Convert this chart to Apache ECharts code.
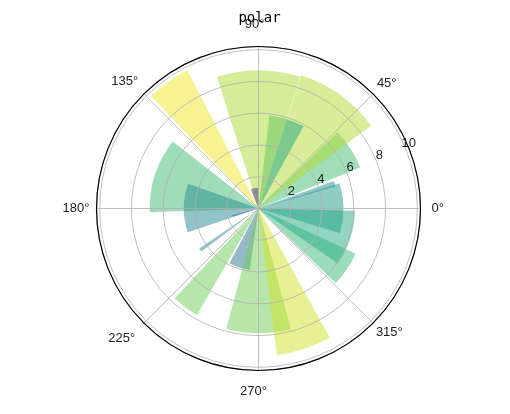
<!DOCTYPE html>
<html><head><meta charset="utf-8">
<script src="https://cdn.jsdelivr.net/npm/echarts@6/dist/echarts.min.js"></script>
<style>html,body{margin:0;padding:0;background:#fff}#c{width:510px;height:414px}</style>
</head><body><div id="c"></div>
<script>
// ---- data ----
var thetas = [0.2, 18, 33, 54.3, 72.3, 90, 101, 125.5, 162, 179.6, 196, 215.5, 233.5, 252, 270, 288, 325.5, 342];
var radii  = [5.35, 5.05, 6.9, 8.8, 5.9, 8.7, 1.3, 9.8, 6.85, 4.7, 1.7, 4.5, 7.75, 3.9, 7.85, 9.3, 6.75, 6.07];
var widths = [34, 4, 22, 36, 22, 35, 22, 16.5, 40, 38, 2.5, 3, 13, 20, 30, 21.7, 19, 33.4];
var radialTicks = [2, 4, 6, 8, 10];
var angleTicks = [0, 45, 90, 135, 180, 225, 270, 315];
var titleText = 'polar';

// ---- styling helpers ----
var VIR = ['#440154','#482475','#414487','#355f8d','#2a788e','#21918c','#22a884','#44bf70','#7ad151','#bddf26','#fde725'];
function hex(h){ return [parseInt(h.substr(1,2),16), parseInt(h.substr(3,2),16), parseInt(h.substr(5,2),16)]; }
function viridis(t){
  t = Math.max(0, Math.min(1, t));
  var x = t * 10, i = Math.min(9, Math.floor(x)), f = x - i;
  var a = hex(VIR[i]), b = hex(VIR[i + 1]);
  return 'rgb(' + [0,1,2].map(function(k){ return Math.round(a[k] + (b[k] - a[k]) * f); }).join(',') + ')';
}
var FONT = 'Liberation Sans';
var labelPad = {0:[0,0,0,7], 45:[0,0,1,1], 90:[0,8,12,0], 135:[0,3,3,0], 180:[0,3,0,0], 225:[6,6,0,0], 270:[10,10,0,0], 315:[0,0,0,0]};
var rich = {};
angleTicks.forEach(function(a){ rich['p' + a] = {padding: labelPad[a], fontFamily: FONT, fontSize: 13, color: '#222'}; });
function norm(a){ return ((a % 360) + 360) % 360; }

var CENTER = [258.5, 208.5], RADIUS = 162, RMAX = 10.2;

var chart = echarts.init(document.getElementById('c'), null, {renderer: 'canvas'});
chart.setOption({
  animation: false,
  backgroundColor: '#fff',
  title: {text: titleText, left: 254.5, top: 6, textAlign: 'center',
    textStyle: {fontFamily: 'DejaVu Sans Mono', fontSize: 14, fontWeight: 'normal', color: '#000'}},
  polar: [{center: CENTER, radius: RADIUS}, {center: CENTER, radius: RADIUS}],
  angleAxis: [{
    polarIndex: 0, type: 'value', min: 0, max: 360, interval: 45, startAngle: 0, clockwise: false, z: 4,
    axisLine: {lineStyle: {color: '#000', width: 1.2}},
    axisTick: {show: false},
    splitLine: {show: true, lineStyle: {color: '#b0b0b0', width: 0.8}},
    axisLabel: {margin: 4, fontFamily: FONT, fontSize: 13, color: '#222', rich: rich,
      formatter: function(v){ return angleTicks.indexOf(v) >= 0 ? '{p' + v + '|' + v + '°}' : ''; }}
  }, {
    polarIndex: 1, type: 'value', min: 0, max: 360, startAngle: 22.5, clockwise: false, show: false
  }],
  radiusAxis: [{
    polarIndex: 0, type: 'value', min: 0, max: RMAX, interval: 2, z: 3,
    axisLine: {show: false}, axisTick: {show: false}, axisLabel: {show: false},
    splitLine: {show: true, lineStyle: {color: '#b0b0b0', width: 0.8}}
  }, {
    polarIndex: 1, type: 'value', min: 0, max: RMAX, interval: 2, z: 5,
    axisLine: {show: false}, axisTick: {show: false}, splitLine: {show: false},
    axisLabel: {margin: 5, align: 'center', verticalAlign: 'middle', padding: [0,0,0,11],
      fontFamily: FONT, fontSize: 13, color: '#222',
      formatter: function(v){ return radialTicks.indexOf(v) >= 0 ? String(v) : ''; }}
  }],
  series: [{
    type: 'custom', coordinateSystem: 'polar', polarIndex: 0, z: 2,
    data: thetas.map(function(t, i){ return [radii[i], t, widths[i]]; }),
    renderItem: function(params, api){
      var r = api.value(0), th = api.value(1), w = api.value(2);
      var cs = params.coordSys, cx = cs.cx, cy = cs.cy;
      var p1 = api.coord([r, norm(th - w / 2)]);
      var p2 = api.coord([r, norm(th + w / 2)]);
      var R = Math.sqrt((p1[0]-cx)*(p1[0]-cx) + (p1[1]-cy)*(p1[1]-cy));
      var a1 = Math.atan2(p1[1] - cy, p1[0] - cx);
      var a2 = Math.atan2(p2[1] - cy, p2[0] - cx);
      while (a1 < a2) a1 += 2 * Math.PI;
      return {type: 'sector',
        shape: {cx: cx, cy: cy, r0: 0, r: R, startAngle: a2, endAngle: a1, clockwise: true},
        style: {fill: viridis(r / 10), opacity: 0.5}};
    }
  }]
});
</script>
</body></html>
